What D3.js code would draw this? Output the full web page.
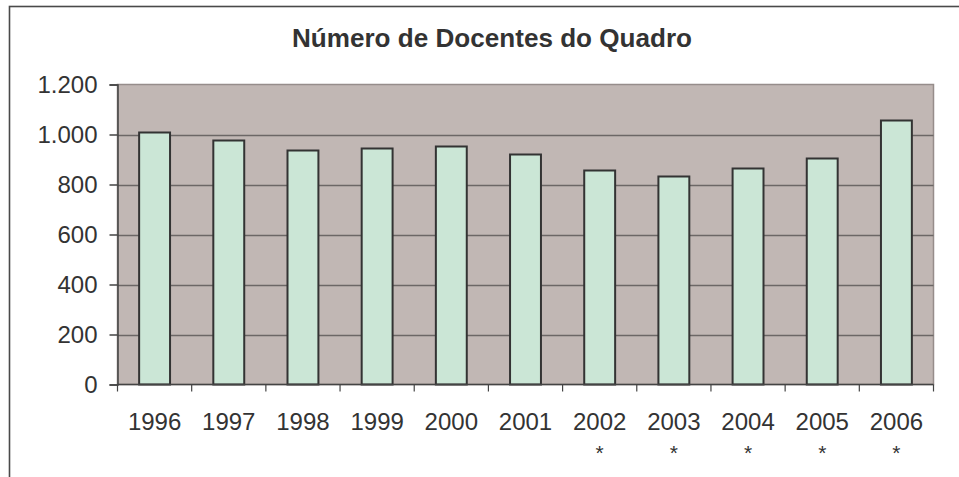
<!DOCTYPE html>
<html>
<head>
<meta charset="utf-8">
<script src="https://cdn.jsdelivr.net/npm/d3@7"></script>
<style>
  html, body { margin: 0; padding: 0; background: #fff; }
  svg { display: block; }
  text { font-family: "Liberation Sans", Arial, sans-serif; fill: #333; }
</style>
</head>
<body>
<svg id="chart" width="959" height="477"></svg>
<script>
const title = "Número de Docentes do Quadro";
const categories = ["1996","1997","1998","1999","2000","2001","2002","2003","2004","2005","2006"];
const marks = ["","","","","","","*","*","*","*","*"];
const values = [1008, 976, 936, 944, 952, 920, 856, 832, 864, 904, 1056];
const yTicks = [0, 200, 400, 600, 800, 1000, 1200];
const yTickLabels = ["0","200","400","600","800","1.000","1.200"];

const svg = d3.select("#chart");
const W = 959, H = 477;
const plot = { left: 117.5, right: 933.5, top: 84.5, bottom: 384.5 };

// outer frame (extends past the window on right/bottom)
svg.append("rect")
  .attr("x", 9.5).attr("y", 6.5)
  .attr("width", W + 20).attr("height", H + 20)
  .attr("fill", "#fff").attr("stroke", "#4a4a4a").attr("stroke-width", 1.6);

const x = d3.scaleBand().domain(categories)
  .range([plot.left, plot.right]).paddingInner(1.4/2.4).paddingOuter(0.7/2.4);
const xOuter = d3.scaleBand().domain(categories).range([plot.left, plot.right]);
const y = d3.scaleLinear().domain([0, 1200]).range([plot.bottom, plot.top]);

// plot background
svg.append("rect")
  .attr("x", plot.left).attr("y", plot.top)
  .attr("width", plot.right - plot.left).attr("height", plot.bottom - plot.top)
  .attr("fill", "#C1B7B4").attr("stroke", "#968d8b").attr("stroke-width", 1.5);

// gridlines
svg.append("g").selectAll("line").data(yTicks.filter(d => d > 0 && d < 1200)).join("line")
  .attr("x1", plot.left).attr("x2", plot.right)
  .attr("y1", d => Math.round(y(d)) + 0.5).attr("y2", d => Math.round(y(d)) + 0.5)
  .attr("stroke", "#6c6766").attr("stroke-width", 1.5);

// bars
svg.append("g").selectAll("rect").data(values).join("rect")
  .attr("x", (d, i) => x(categories[i]))
  .attr("y", d => y(d))
  .attr("width", x.bandwidth())
  .attr("height", d => plot.bottom - y(d))
  .attr("fill", "#CBE6D6").attr("stroke", "#333").attr("stroke-width", 2);

// y axis
const yAxis = d3.axisLeft(y).tickValues(yTicks)
  .tickFormat((d, i) => yTickLabels[i]).tickSize(8).tickPadding(12);
const gy = svg.append("g").attr("transform", `translate(${plot.left},0)`).call(yAxis);
gy.select(".domain").attr("stroke", "#444").attr("stroke-width", 1.5);
gy.selectAll(".tick line").attr("stroke", "#444").attr("stroke-width", 1.5);
gy.selectAll(".tick text").attr("font-size", 24).attr("fill", "#333")
  .attr("font-family", "Liberation Sans, Arial, sans-serif");

// x axis (ticks at category boundaries)
const boundaries = categories.map(c => xOuter(c)).concat([plot.right]);
svg.append("line").attr("x1", plot.left).attr("x2", plot.right)
  .attr("y1", plot.bottom).attr("y2", plot.bottom)
  .attr("stroke", "#444").attr("stroke-width", 1.5);
svg.append("g").selectAll("line").data(boundaries).join("line")
  .attr("x1", d => d).attr("x2", d => d)
  .attr("y1", plot.bottom).attr("y2", plot.bottom + 7)
  .attr("stroke", "#444").attr("stroke-width", 1.2);

const gx = svg.append("g");
gx.selectAll("text.cat").data(categories).join("text").attr("class", "cat")
  .attr("x", d => xOuter(d) + xOuter.bandwidth() / 2)
  .attr("y", 430)
  .attr("text-anchor", "middle").attr("font-size", 24)
  .text(d => d);
gx.selectAll("text.mark").data(marks).join("text").attr("class", "mark")
  .attr("x", (d, i) => xOuter(categories[i]) + xOuter.bandwidth() / 2)
  .attr("y", 460)
  .attr("text-anchor", "middle").attr("font-size", 21)
  .text(d => d);

// title
svg.append("text")
  .attr("x", 492).attr("y", 47)
  .attr("text-anchor", "middle").attr("font-size", 25).attr("font-weight", "bold")
  .attr("textLength", 400).attr("lengthAdjust", "spacingAndGlyphs")
  .text(title);
</script>
</body>
</html>
